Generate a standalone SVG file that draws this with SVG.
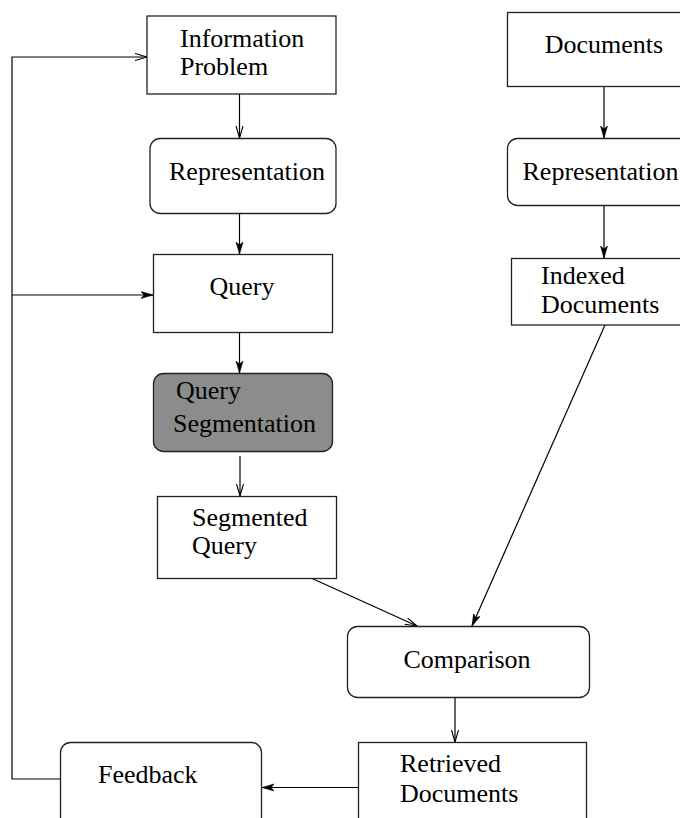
<svg xmlns="http://www.w3.org/2000/svg" width="680" height="818" viewBox="0 0 680 818">
<style>
.box{fill:#fff;stroke:#222;stroke-width:1.3}
.gray{fill:#8c8c8c;stroke:#222;stroke-width:1.3}
text{font-family:'Liberation Serif','Times New Roman',Times,'DejaVu Serif',serif;font-size:26px;fill:#000}
.m{text-anchor:middle}
.c{fill:none;stroke:#000;stroke-width:1.2}
</style>
<defs>
<marker id="open" markerUnits="userSpaceOnUse" markerWidth="14" markerHeight="10" refX="12" refY="4" orient="auto">
<path d="M0,0.5 L12,4 L0,7.5" fill="none" stroke="#000" stroke-width="1.1"/>
</marker>
<marker id="fill" markerUnits="userSpaceOnUse" markerWidth="14" markerHeight="10" refX="12" refY="4" orient="auto">
<path d="M0,0.5 L12,4 L0,7.5 L3,4 z" fill="#000" stroke="#000" stroke-width="0.6"/>
</marker>
</defs>
<g id="connectors">
<path class="c" d="M60,779 H12 V57 H147" marker-end="url(#open)"/>
<path class="c" d="M12,295 H153" marker-end="url(#fill)"/>
<path class="c" d="M239.5,94 V138" marker-end="url(#open)"/>
<path class="c" d="M239.5,213 V254" marker-end="url(#fill)"/>
<path class="c" d="M239.5,332 V373" marker-end="url(#fill)"/>
<path class="c" d="M240,456 V496" marker-end="url(#open)"/>
<path class="c" d="M311,578 L417,626" marker-end="url(#open)"/>
<path class="c" d="M604,87 V138" marker-end="url(#fill)"/>
<path class="c" d="M604,206 V258" marker-end="url(#fill)"/>
<path class="c" d="M605,325 L472,626" marker-end="url(#fill)"/>
<path class="c" d="M455,697 V742" marker-end="url(#open)"/>
<path class="c" d="M358,787.5 H262" marker-end="url(#fill)"/>
</g>
<g id="info-problem">
<rect class="box" x="147" y="16" width="189" height="78"/>
<text x="180" y="47">Information</text>
<text x="180" y="75">Problem</text>
</g>
<g id="representation-q">
<rect class="box" x="150" y="138.5" width="186" height="75" rx="10"/>
<text class="m" x="247" y="180">Representation</text>
</g>
<g id="query">
<rect class="box" x="153.5" y="254.5" width="179" height="78"/>
<text class="m" x="242" y="295">Query</text>
</g>
<g id="query-segmentation">
<rect class="gray" x="153.5" y="373.5" width="179" height="78" rx="10"/>
<text x="176" y="399">Query</text>
<text x="173" y="432">Segmentation</text>
</g>
<g id="segmented-query">
<rect class="box" x="157.5" y="496.5" width="179" height="82"/>
<text x="192" y="526">Segmented</text>
<text x="192" y="554">Query</text>
</g>
<g id="documents">
<rect class="box" x="507.5" y="12.5" width="200" height="74"/>
<text class="m" x="604" y="53">Documents</text>
</g>
<g id="representation-d">
<rect class="box" x="507.5" y="138.5" width="200" height="67" rx="10"/>
<text x="522.5" y="180">Representation</text>
</g>
<g id="indexed-documents">
<rect class="box" x="511.5" y="258.5" width="200" height="66.5"/>
<text x="541" y="284">Indexed</text>
<text x="541" y="313">Documents</text>
</g>
<g id="comparison">
<rect class="box" x="347.5" y="626.5" width="242" height="71" rx="10"/>
<text class="m" x="467" y="668">Comparison</text>
</g>
<g id="retrieved-documents">
<rect class="box" x="358.5" y="742.5" width="228" height="90"/>
<text x="400" y="772">Retrieved</text>
<text x="400" y="802">Documents</text>
</g>
<g id="feedback">
<rect class="box" x="60.5" y="742.5" width="201" height="90" rx="10"/>
<text x="98" y="783">Feedback</text>
</g>
</svg>
